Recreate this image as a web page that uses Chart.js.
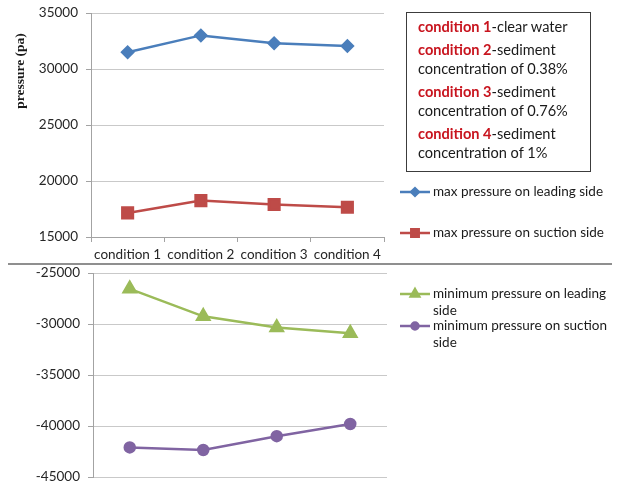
<!DOCTYPE html>
<html>
<head>
<meta charset="utf-8">
<script src="https://cdn.jsdelivr.net/npm/chart.js@4.4.1/dist/chart.umd.min.js"></script>
<style>
  html, body { margin: 0; padding: 0; background: #fff; overflow: hidden; }
  body { width: 617px; height: 482px; position: relative; font-family: Lato, "Open Sans", sans-serif; }
  canvas { position: absolute; left: 0; }
  #top-chart { top: 0; }
  #bottom-chart { top: 264px; }
  #divider { position: absolute; left: 8px; top: 263px; width: 604px; height: 2px; background: #8f8f8f; }
  #notes {
    position: absolute; left: 406px; top: 12px; width: 172px; height: 154px;
    border: 1.5px solid #3c3c3c; padding: 4px 0 0 11px; font-size: 14.6px; color: #1a1a1a; line-height: 19px;
  }
  #notes p { margin: 0 0 4px 0; }
  #notes b { color: #c8141e; }
</style>
</head>
<body>
<canvas id="top-chart" width="617" height="264"></canvas>
<div id="divider"></div>
<canvas id="bottom-chart" width="617" height="230"></canvas>
<div id="notes"></div>
<script>
const categories = ['condition 1', 'condition 2', 'condition 3', 'condition 4'];
const maxLeading = [31500, 33000, 32300, 32050];
const maxSuction = [17150, 18250, 17900, 17650];
const minLeading = [-26550, -29250, -30350, -30900];
const minSuction = [-42100, -42350, -41000, -39800];
const conditionNotes = [
    ['condition 1', '-clear water'],
    ['condition 2', '-sediment concentration of 0.38%'],
    ['condition 3', '-sediment concentration of 0.76%'],
    ['condition 4', '-sediment concentration of 1%']
];

document.getElementById('notes').innerHTML = conditionNotes
    .map(([name, rest]) => `<p><b>${name}</b>${rest}</p>`)
    .join('');

const tickFont = { family: 'Lato', size: 13.5 };
const tickColor = '#262626';
const gridColor = '#c9c9c9';
const axisColor = '#a3a3a3';

// legend drawn beside the plot, one entry per dataset at the given y
const sideLegend = {
    id: 'sideLegend',
    afterDraw(chart, args, opts) {
        const ctx = chart.ctx;
        ctx.save();
        ctx.font = '13.5px Lato';
        ctx.textBaseline = 'middle';
        chart.data.datasets.forEach((ds, i) => {
            const y = opts.rows[i];
            ctx.strokeStyle = ds.borderColor;
            ctx.lineWidth = 2.5;
            ctx.beginPath();
            ctx.moveTo(opts.x, y);
            ctx.lineTo(opts.x + 30, y);
            ctx.stroke();
            ctx.fillStyle = ds.backgroundColor;
            Chart.helpers.drawPoint(ctx, {
                pointStyle: ds.pointStyle, radius: ds.pointRadius * 0.7, rotation: 0, borderWidth: 1
            }, opts.x + 15, y);
            ctx.fillStyle = '#1a1a1a';
            // wrap the label by words
            const words = ds.label.split(' ');
            let line = '';
            let ly = y;
            words.forEach(w => {
                const test = line ? line + ' ' + w : w;
                if (ctx.measureText(test).width > opts.maxWidth && line) {
                    ctx.fillText(line, opts.x + 33, ly);
                    line = w;
                    ly += 17;
                } else {
                    line = test;
                }
            });
            ctx.fillText(line, opts.x + 33, ly);
        });
        ctx.restore();
    }
};

// rotated axis title near the top of the upper chart
const axisTitle = {
    id: 'axisTitle',
    afterDraw(chart, args, opts) {
        if (!opts.text) return;
        const ctx = chart.ctx;
        ctx.save();
        ctx.translate(opts.x, opts.y);
        ctx.rotate(-Math.PI / 2);
        ctx.font = 'bold 13.5px "Liberation Serif"';
        ctx.fillStyle = '#1a1a1a';
        ctx.textAlign = 'center';
        ctx.textBaseline = 'middle';
        ctx.fillText(opts.text, 0, 0);
        ctx.restore();
    }
};

function series(label, data, color, style, radius) {
    return {
        label: label,
        data: data,
        borderColor: color,
        backgroundColor: color,
        pointBackgroundColor: color,
        pointBorderColor: color,
        pointStyle: style,
        pointRadius: radius,
        borderWidth: 2.5,
        tension: 0
    };
}

function yScale(min, max, width) {
    return {
        min: min,
        max: max,
        ticks: {
            stepSize: 5000,
            font: tickFont,
            color: tickColor,
            padding: 8,
            callback: v => String(v)
        },
        grid: { color: gridColor, tickLength: 5, tickColor: axisColor },
        border: { color: axisColor, width: 1 },
        afterFit: scale => {
            scale.width = width;
            // plot edges come from layout padding only
            scale.paddingTop = 0;
            scale.paddingBottom = 0;
        }
    };
}

new Chart(document.getElementById('top-chart'), {
    type: 'line',
    data: {
        labels: categories,
        datasets: [
            series('max pressure on leading side', maxLeading, '#4a7ebb', 'rectRot', 5.5),
            series('max pressure on suction side', maxSuction, '#be4b48', 'rect', 7.5)
        ]
    },
    options: {
        responsive: false,
        animation: false,
        layout: { autoPadding: false, padding: { left: 0, right: 233, top: 13, bottom: 0 } },
        scales: {
            x: {
                offset: true,
                ticks: { font: tickFont, color: tickColor, padding: 5, maxRotation: 0 },
                grid: { offset: true, drawOnChartArea: false, tickLength: 5, color: axisColor },
                border: { color: axisColor, width: 1 },
                afterFit: scale => { scale.height = 27; }
            },
            y: yScale(15000, 35000, 91)
        },
        plugins: {
            legend: { display: false },
            tooltip: { enabled: false },
            sideLegend: { x: 400, rows: [192, 233], maxWidth: 180 },
            axisTitle: { text: 'pressure (pa)', x: 21, y: 71 }
        }
    },
    plugins: [sideLegend, axisTitle]
});

new Chart(document.getElementById('bottom-chart'), {
    type: 'line',
    data: {
        labels: categories,
        datasets: [
            series('minimum pressure on leading side', minLeading, '#9bbb59', 'triangle', 7),
            series('minimum pressure on suction side', minSuction, '#8064a2', 'circle', 5)
        ]
    },
    options: {
        responsive: false,
        animation: false,
        layout: { autoPadding: false, padding: { left: 0, right: 230, top: 9, bottom: 17 } },
        scales: {
            x: { display: false, offset: true },
            y: yScale(-45000, -25000, 93)
        },
        plugins: {
            legend: { display: false },
            tooltip: { enabled: false },
            sideLegend: { x: 400, rows: [30, 62], maxWidth: 180 }
        }
    },
    plugins: [sideLegend]
});
</script>
</body>
</html>
